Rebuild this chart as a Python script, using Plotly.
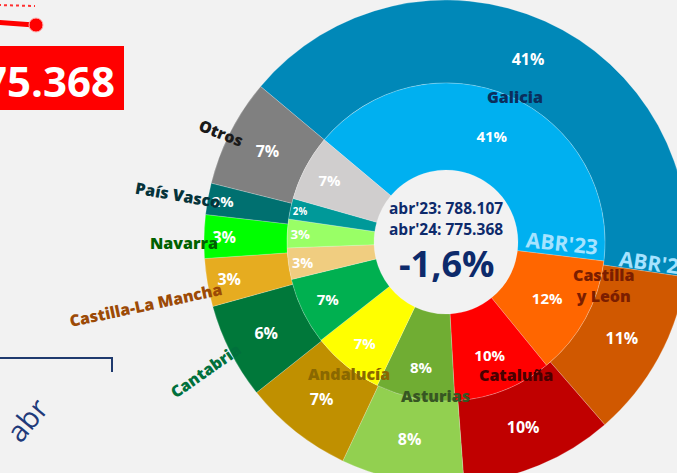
import plotly.graph_objects as go

# ---------------- data ----------------
regions = ["Galicia", "Castilla y León", "Cataluña", "Asturias", "Andalucía",
           "Cantabria", "Castilla-La Mancha", "Navarra", "País Vasco", "Otros"]
values_abr23 = [321548, 96149, 78811, 63049, 57532, 53591, 25219, 22855, 16550, 52803]
values_abr24 = [319452, 87617, 79088, 63580, 56602, 49624, 24812, 22486, 16283, 55824]
label_23 = "abr'23"
label_24 = "abr'24"
ring_23 = "ABR'23"
ring_24 = "ABR'24"
axis_tick = "abr"

colors_23 = ["#00B0F0", "#FF6600", "#FF0000", "#70AD33", "#FFFF00",
             "#00B050", "#F0CD80", "#99FF66", "#009999", "#D0CECE"]
colors_24 = ["#0088B8", "#D05800", "#C00000", "#92D050", "#C09000",
             "#00783A", "#E6AC20", "#00FF00", "#007070", "#808080"]

# ---------------- layout helpers ----------------
W, H = 700, 500


def px(x):
    return x / W


def py(y):
    return 1 - y / H


def fmt(n):
    return f"{n:,}".replace(",", ".")


total23 = sum(values_abr23)
total24 = sum(values_abr24)
change = (total24 / total23 - 1) * 100
change_txt = f"{change:.1f}%".replace(".", ",")

CX, CY = 446, 242
R_OUT, R_MID, R_HOLE = 242, 159, 72

fig = go.Figure()

fig.add_trace(go.Pie(
    labels=regions, values=values_abr24, sort=False, direction="clockwise",
    rotation=-50, hole=R_MID / R_OUT,
    domain=dict(x=[px(CX - R_OUT), px(CX + R_OUT)], y=[py(CY + R_OUT), py(CY - R_OUT)]),
    marker=dict(colors=colors_24, line=dict(color="rgba(255,255,255,0.35)", width=0.6)),
    texttemplate="%{percent:.0%}", textposition="inside",
    insidetextorientation="horizontal",
    textfont=dict(family="Open Sans", size=16, color="white", weight="bold"),
    showlegend=False, hoverinfo="label+value+percent", name=label_24,
))

fig.add_trace(go.Pie(
    labels=regions, values=values_abr23, sort=False, direction="clockwise",
    rotation=-50, hole=R_HOLE / R_MID,
    domain=dict(x=[px(CX - R_MID), px(CX + R_MID)], y=[py(CY + R_MID), py(CY - R_MID)]),
    marker=dict(colors=colors_23, line=dict(color="rgba(255,255,255,0.35)", width=0.6)),
    texttemplate="%{percent:.0%}", textposition="inside",
    insidetextorientation="horizontal",
    textfont=dict(family="Open Sans", size=15, color="white", weight="bold"),
    showlegend=False, hoverinfo="label+value+percent", name=label_23,
))

ann = []


def add_text(text, x, y, size, color, angle=0, weight="bold", family="Open Sans",
             xanchor="center"):
    ann.append(dict(text=text, x=px(x), y=py(y), xref="paper", yref="paper",
                    xanchor=xanchor, yanchor="middle", showarrow=False,
                    textangle=angle,
                    font=dict(family=family, size=size, color=color, weight=weight)))


# region labels: (text, x, y, angle, color)
region_labels = [
    ("Galicia", 515, 97, 0, "#0B2E5C"),
    ("Castilla<br>y León", 604, 285, 0, "#7B1E00"),
    ("Cataluña", 516, 375, 0, "#4A0000"),
    ("Asturias", 435, 396, 0, "#375623"),
    ("Andalucía", 349, 374, 0, "#8A6800"),
    ("Cantabria", 205, 371, -35, "#00703C"),
    ("Castilla-La Mancha", 146, 305, -12, "#9C4A06"),
    ("Navarra", 184, 243, 0, "#006100"),
    ("País Vasco", 178, 195, 10, "#05333A"),
    ("Otros", 221, 133, 22, "#1A1A1A"),
]
for t, x, y, a, c in region_labels:
    add_text(t, x, y, 16, c, angle=a, weight=800, family="Open Sans")

# ring labels
add_text(ring_23, 562, 243, 21, "#A6E3FF", angle=6)
add_text(ring_24, 655, 263, 21, "#A6E3FF", angle=8)

# centre texts
add_text(f"{label_23}: {fmt(total23)}", CX, 208, 15.5, "#0D2A6B")
add_text(f"{label_24}: {fmt(total24)}", CX, 229, 15.5, "#0D2A6B")
add_text(change_txt, CX, 263, 36, "#0D2A6B")

# left-side fragments
add_text(fmt(total24), 117, 80, 42, "white", xanchor="right")
add_text(axis_tick, 26, 419, 29, "#1F3A7A", angle=-50, weight="normal")

shapes = [
    dict(type="rect", xref="paper", yref="paper", x0=px(-10), x1=px(124),
         y0=py(110), y1=py(46), fillcolor="#FF0000", line=dict(width=0), layer="below"),
    dict(type="line", xref="paper", yref="paper", x0=px(-5), x1=px(34),
         y0=py(22), y1=py(25), line=dict(color="#FF0000", width=5)),
    dict(type="circle", xref="paper", yref="paper", x0=px(29), x1=px(43),
         y0=py(32), y1=py(18), fillcolor="#FF0000", line=dict(color="#FFB0B0", width=1)),
    dict(type="line", xref="paper", yref="paper", x0=px(-2), x1=px(35),
         y0=py(5), y1=py(6), line=dict(color="#FF3030", width=2, dash="dot")),
    dict(type="line", xref="paper", yref="paper", x0=px(-5), x1=px(112),
         y0=py(358), y1=py(358), line=dict(color="#1F3A6E", width=2)),
    dict(type="line", xref="paper", yref="paper", x0=px(112), x1=px(112),
         y0=py(357), y1=py(372), line=dict(color="#1F3A6E", width=2)),
]

fig.update_layout(
    width=W, height=H, margin=dict(l=0, r=0, t=0, b=0),
    paper_bgcolor="#F2F2F2", plot_bgcolor="#F2F2F2",
    annotations=ann, shapes=shapes, showlegend=False,
)

fig.write_html("out.html", config={"displayModeBar": False},
               post_script="document.body.style.margin='0';document.body.style.overflow='hidden';document.body.style.background='#F2F2F2';")
